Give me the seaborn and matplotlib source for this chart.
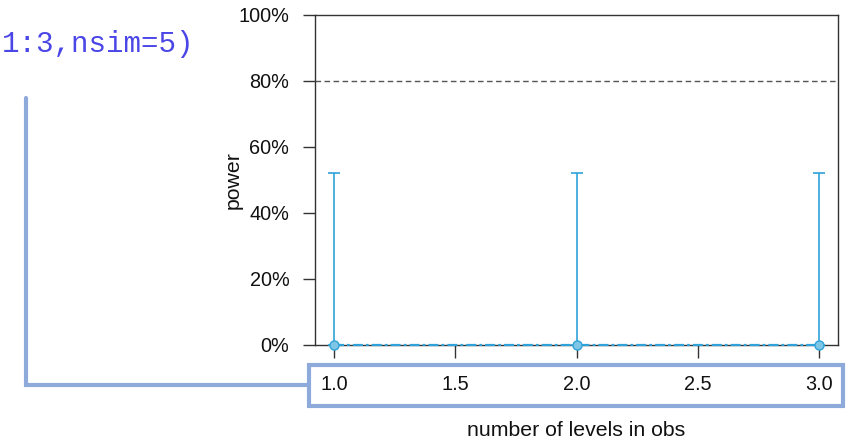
import matplotlib
matplotlib.use("Agg")
import matplotlib.pyplot as plt
from matplotlib.lines import Line2D
from matplotlib.patches import Rectangle
import seaborn as sns
import pandas as pd
import numpy as np

# Power estimates per number of levels (nsim = 5 runs each)
levels = [1.0, 2.0, 3.0]
power = [0.0, 0.0, 0.0]
ci_lower = [0.0, 0.0, 0.0]
ci_upper = [0.5218, 0.5218, 0.5218]
x_ticks = [1.0, 1.5, 2.0, 2.5, 3.0]
y_ticks = [0.0, 0.2, 0.4, 0.6, 0.8, 1.0]
target_power = 0.8
code_text = "1:3,nsim=5)"

sns.set_theme(style="white")
plt.rcParams["font.family"] = ["Liberation Sans", "DejaVu Sans"]

W, H = 851, 442
fig = plt.figure(figsize=(W / 100, H / 100), dpi=100)
ax = fig.add_axes([315 / W, 1 - 345 / H, (838 - 315) / W, (345 - 15) / H])

line_col = "#2fa3d9"
df = pd.DataFrame({"levels": levels, "power": power})

# error bars from the confidence interval
yerr = [np.array(power) - np.array(ci_lower), np.array(ci_upper) - np.array(power)]
ax.errorbar(levels, power, yerr=yerr, fmt="none", ecolor=line_col,
            elinewidth=1.2, capsize=4.4, capthick=1.2, zorder=3)

sns.lineplot(data=df, x="levels", y="power", ax=ax, color=line_col,
             linewidth=1.6, marker="o", markersize=6.5,
             markerfacecolor="#7fc6e6", markeredgecolor=line_col,
             markeredgewidth=1.0, zorder=4, clip_on=False)
ax.lines[-1].set_dashes([4.5, 1.4, 1.2, 1.4])

ax.axhline(target_power, color="#555555", linewidth=1.0,
           linestyle=(0, (4, 2.5)), zorder=2)

ax.set_xlim(0.92, 3.08)
ax.set_ylim(0, 1)
ax.set_xticks(x_ticks)
ax.set_xticklabels([f"{t:.1f}" for t in x_ticks])
ax.set_yticks(y_ticks)
ax.set_yticklabels([f"{int(round(t * 100))}%" for t in y_ticks])

for s in ax.spines.values():
    s.set_visible(True)
    s.set_color("#333333")
    s.set_linewidth(1.0)

ax.tick_params(axis="x", direction="out", length=9, width=1.0,
               color="#333333", pad=12.5, labelsize=14.3, labelcolor="#111111",
               bottom=True)
ax.tick_params(axis="y", direction="out", length=9, width=1.0,
               color="#333333", pad=9.5, labelsize=14.3, labelcolor="#111111",
               left=True)

ax.set_xlabel("number of levels in obs", fontsize=15.3, color="#111111",
              labelpad=0)
ax.xaxis.set_label_coords(0.5, (345 - 430) / 330, transform=ax.transAxes)
ax.xaxis.label.set_va("center")
ax.set_ylabel("power", fontsize=15.3, color="#111111")
ax.yaxis.set_label_coords((233 - 315) / 523, 0.5, transform=ax.transAxes)
ax.yaxis.label.set_va("center")

# call text fragment and highlight callout
fig.text(2 / W, 1 - 44 / H, code_text, family=["Liberation Mono", "DejaVu Sans Mono"],
         fontsize=21, color="#4b46e6", ha="left", va="center")

hl = "#8eaadb"
def px(x, y):
    return x / W, 1 - y / H

rx0, ry0 = px(308.5, 406)
rx1, ry1 = px(843, 365)
fig.add_artist(Rectangle((rx0, ry0), rx1 - rx0, ry1 - ry0, transform=fig.transFigure,
                         fill=False, edgecolor=hl, linewidth=3.0, zorder=10))
pts = [px(26, 98), px(26, 385), px(308.5, 385)]
fig.add_artist(Line2D([p[0] for p in pts], [p[1] for p in pts],
                      transform=fig.transFigure, color=hl, linewidth=3.0,
                      solid_joinstyle="miter", zorder=10))

fig.savefig("out.png", dpi=100)
